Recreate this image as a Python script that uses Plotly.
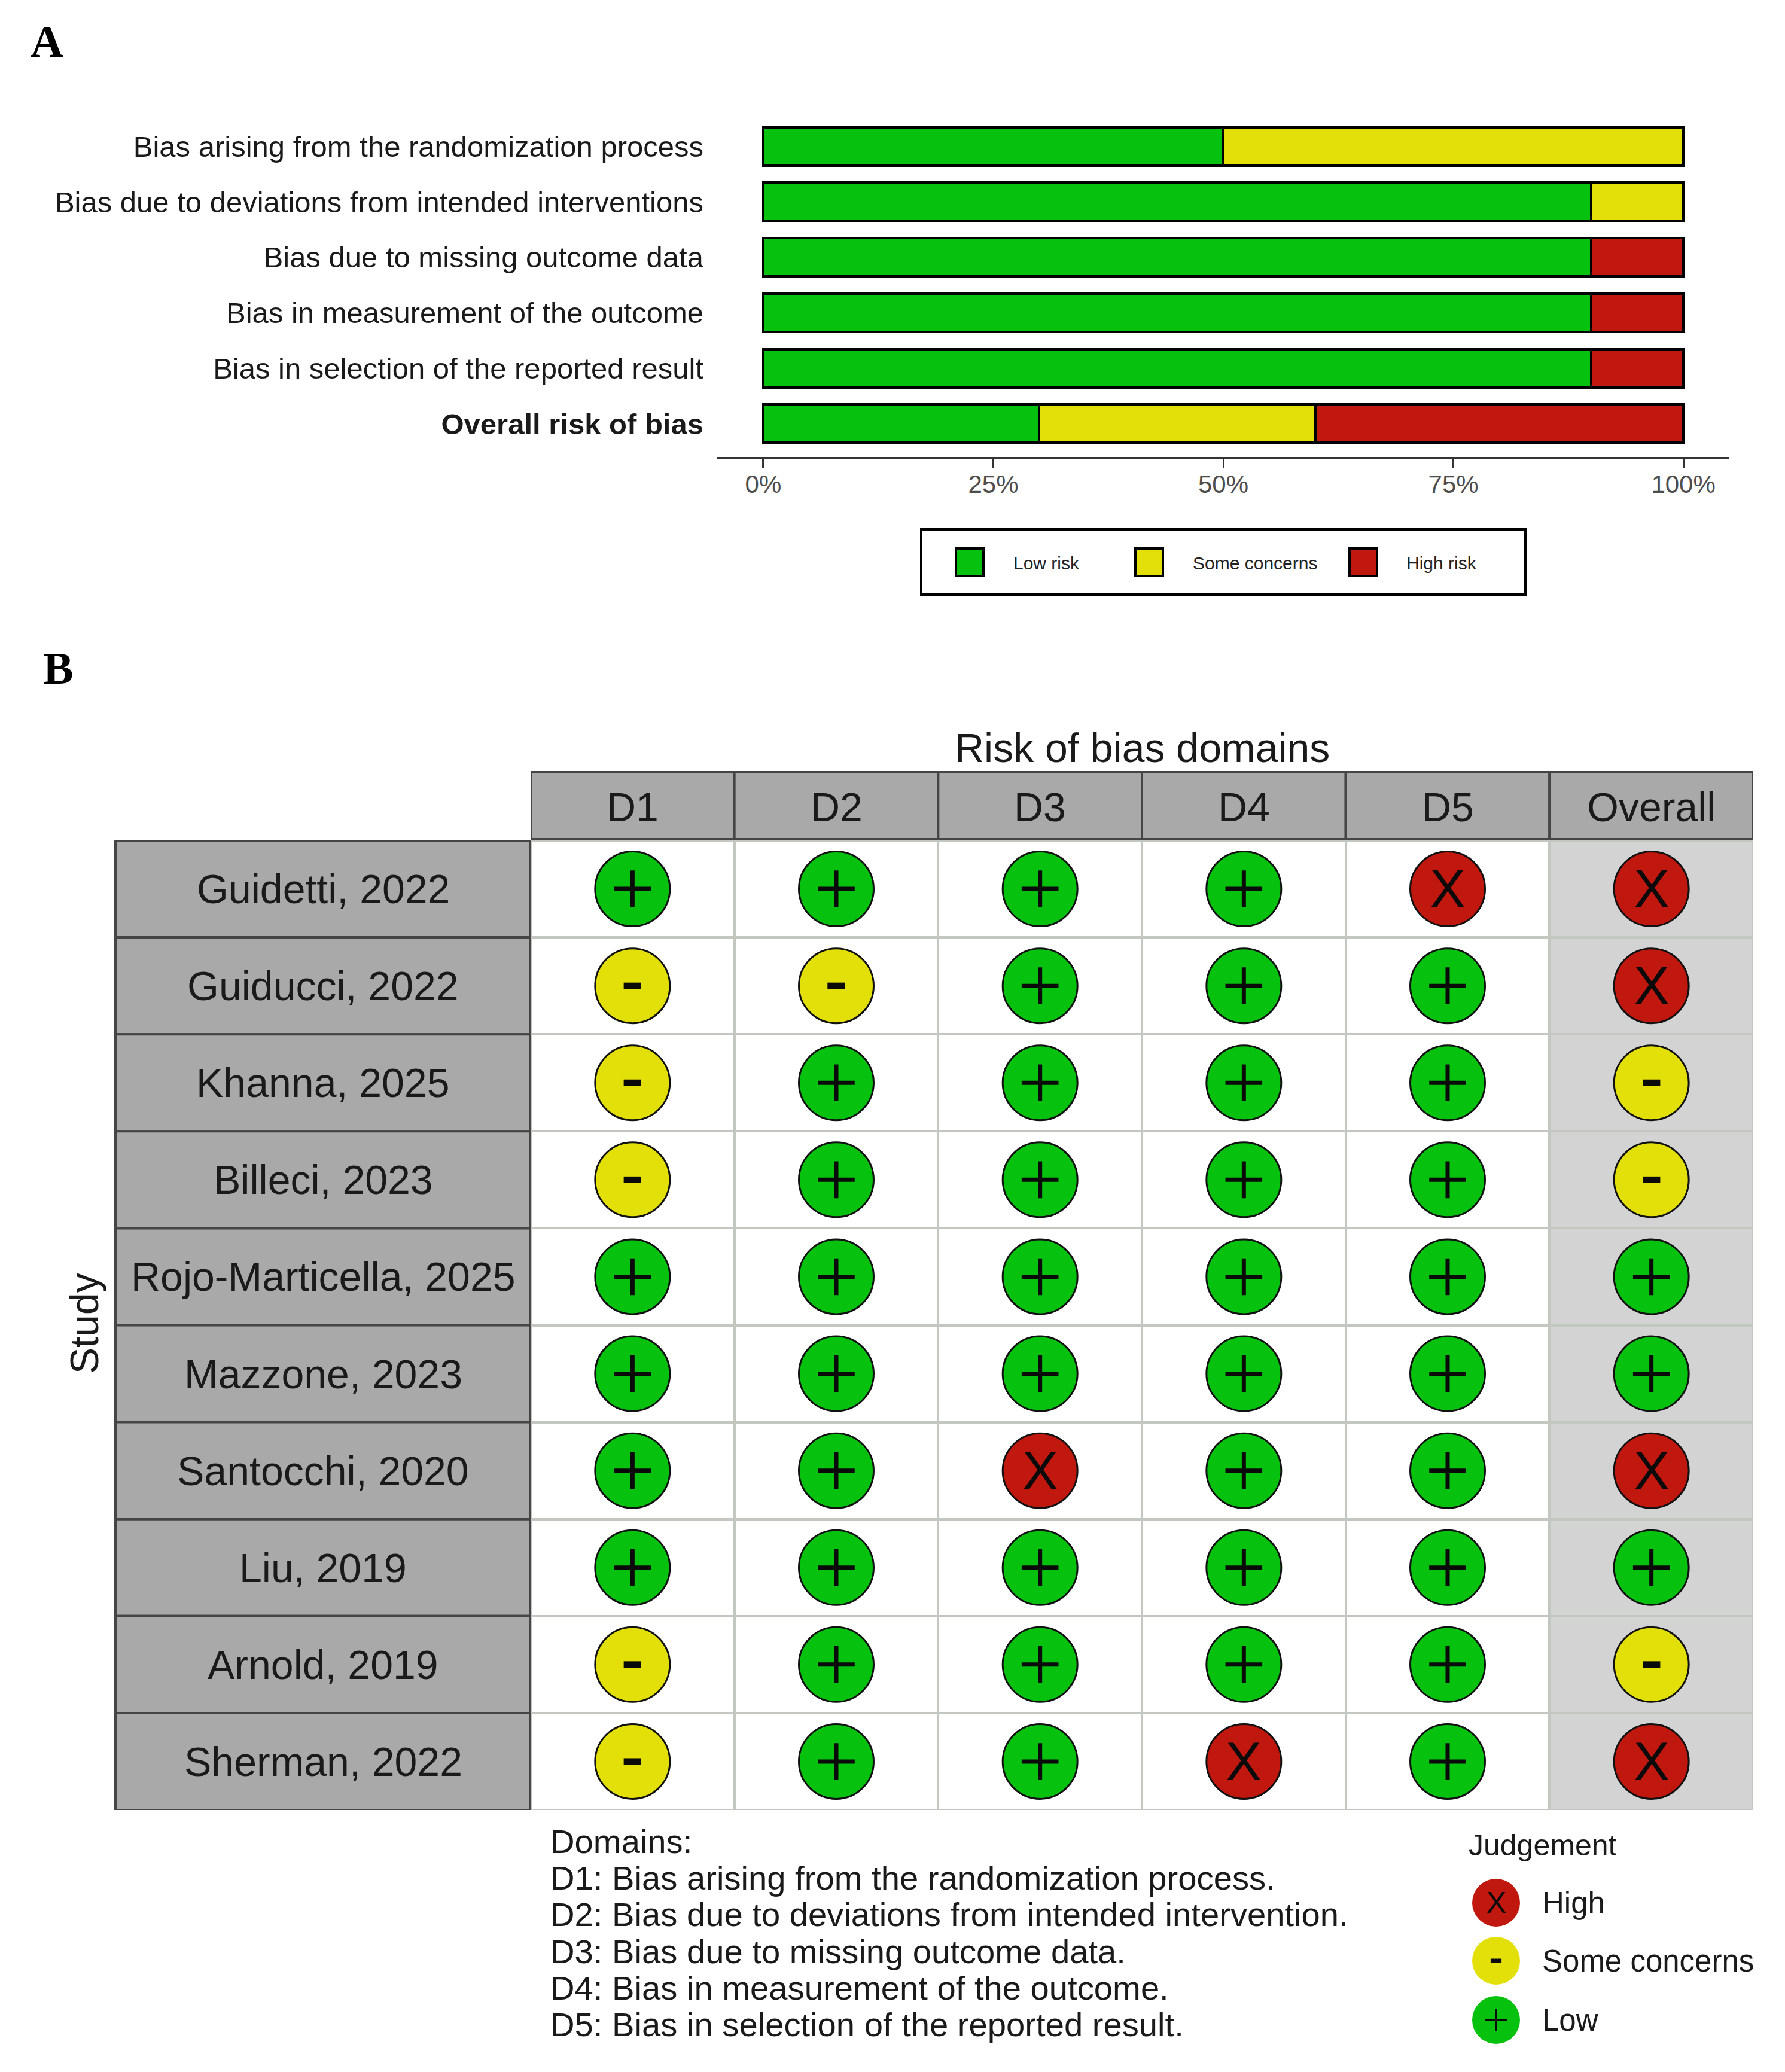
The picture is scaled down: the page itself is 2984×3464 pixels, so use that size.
import plotly.graph_objects as go

W, H = 2984, 3464
GREEN, YELLOW, RED = "#07C10F", "#E3E009", "#C0170F"
SANS, SERIF = "Liberation Sans", "Liberation Serif"

# ---- Panel A data
domain_labels = ["Bias arising from the randomization process",
                 "Bias due to deviations from intended interventions",
                 "Bias due to missing outcome data",
                 "Bias in measurement of the outcome",
                 "Bias in selection of the reported result",
                 "<b>Overall risk of bias</b>"]
low_risk = [50, 90, 90, 90, 90, 30]
some_concerns = [50, 10, 0, 0, 0, 30]
high_risk = [0, 0, 10, 10, 10, 40]
pct_ticks = [0, 25, 50, 75, 100]
pct_labels = ["0%", "25%", "50%", "75%", "100%"]

# ---- Panel B data
studies = ["Guidetti, 2022", "Guiducci, 2022", "Khanna, 2025", "Billeci, 2023",
           "Rojo-Marticella, 2025", "Mazzone, 2023", "Santocchi, 2020", "Liu, 2019",
           "Arnold, 2019", "Sherman, 2022"]
rob_domains = ["D1", "D2", "D3", "D4", "D5", "Overall"]
judgements = [
    ["+", "+", "+", "+", "X", "X"],
    ["-", "-", "+", "+", "+", "X"],
    ["-", "+", "+", "+", "+", "-"],
    ["-", "+", "+", "+", "+", "-"],
    ["+", "+", "+", "+", "+", "+"],
    ["+", "+", "+", "+", "+", "+"],
    ["+", "+", "X", "+", "+", "X"],
    ["+", "+", "+", "+", "+", "+"],
    ["-", "+", "+", "+", "+", "-"],
    ["-", "+", "+", "X", "+", "X"],
]
domain_notes = ["Domains:",
                "D1: Bias arising from the randomization process.",
                "D2: Bias due to deviations from intended intervention.",
                "D3: Bias due to missing outcome data.",
                "D4: Bias in measurement of the outcome.",
                "D5: Bias in selection of the reported result."]
judgement_levels = ["High", "Some concerns", "Low"]
legend_a_labels = ["Low risk", "Some concerns", "High risk"]


def fx(px):
    return px / W


def fy(px):
    return 1 - px / H


fig = go.Figure()
shapes = []
annots = []

# ---- Panel A bars
for vals, col, nm in [(low_risk, GREEN, "Low risk"), (some_concerns, YELLOW, "Some concerns"), (high_risk, RED, "High risk")]:
    fig.add_trace(go.Bar(y=domain_labels, x=vals, orientation="h", name=nm, showlegend=False,
                         marker=dict(color=col, line=dict(color="black", width=4)),
                         xaxis="x", yaxis="y"))

# ---- Panel B cells
style = {"+": GREEN, "-": YELLOW, "X": RED}
for g in ["+", "-", "X"]:
    xs, ys = [], []
    for s, row in zip(studies, judgements):
        for d, v in zip(rob_domains, row):
            if v == g:
                xs.append(d)
                ys.append(s)
    fig.add_trace(go.Scatter(x=xs, y=ys, mode="markers", showlegend=False, xaxis="x2", yaxis="y2",
                             marker=dict(size=125, color=style[g], line=dict(color="#111111", width=3))))
    if g == "+":
        fig.add_trace(go.Scatter(x=xs, y=ys, mode="markers", showlegend=False, xaxis="x2", yaxis="y2",
                                 marker=dict(size=44, symbol="cross-thin", line=dict(color="#0a0a0a", width=7))))
    elif g == "-":
        fig.add_trace(go.Scatter(x=xs, y=ys, mode="markers", showlegend=False, xaxis="x2", yaxis="y2",
                                 marker=dict(size=21, symbol="line-ew", line=dict(color="#0a0a0a", width=11))))
    else:
        for x, y in zip(xs, ys):
            annots.append(dict(x=x, y=y, xref="x2", yref="y2", text="X", showarrow=False, xanchor="center",
                               yanchor="middle", font=dict(family=SANS, size=90, color="#0a0a0a")))

# ---- Legend keys on a full-page axis pair
swatch_x, swatch_y = [1621, 1921, 2279], [940, 940, 940]
fig.add_trace(go.Scatter(x=swatch_x, y=swatch_y, mode="markers", showlegend=False, xaxis="x3", yaxis="y3",
                         marker=dict(size=46, symbol="square", color=[GREEN, YELLOW, RED],
                                     line=dict(color="black", width=4))))
key_x, key_y = [2501, 2501, 2501], [3181, 3278, 3377]
fig.add_trace(go.Scatter(x=key_x, y=key_y, mode="markers", showlegend=False, xaxis="x3", yaxis="y3",
                         marker=dict(size=80, color=[RED, YELLOW, GREEN])))
fig.add_trace(go.Scatter(x=key_x[2:], y=key_y[2:], mode="markers", showlegend=False, xaxis="x3", yaxis="y3",
                         marker=dict(size=27, symbol="cross-thin", line=dict(color="#0a0a0a", width=4))))
fig.add_trace(go.Scatter(x=key_x[1:2], y=key_y[1:2], mode="markers", showlegend=False, xaxis="x3", yaxis="y3",
                         marker=dict(size=13, symbol="line-ew", line=dict(color="#0a0a0a", width=7))))
annots.append(dict(x=key_x[0], y=key_y[0], xref="x3", yref="y3", text="X", showarrow=False, xanchor="center",
                   yanchor="middle", font=dict(family=SANS, size=50, color="#0a0a0a")))


def note(px, py, text, size, anchor="left", family=SANS, color="#1a1a1a", angle=0):
    annots.append(dict(x=fx(px), y=fy(py), xref="paper", yref="paper", text=text, showarrow=False,
                       xanchor=anchor, yanchor="middle", textangle=angle,
                       font=dict(family=family, size=size, color=color)))


# Panel letters
note(78, 69, "<b>A</b>", 76, "center", SERIF, "black")
note(97, 1117, "<b>B</b>", 76, "center", SERIF, "black")

# Panel A legend
shapes.append(dict(type="rect", xref="paper", yref="paper", x0=fx(1540), x1=fx(2550), y0=fy(885), y1=fy(994),
                   line=dict(color="black", width=4), fillcolor="rgba(0,0,0,0)", layer="below"))
for px, lab in zip([1692, 1992, 2349], legend_a_labels):
    note(px, 941, lab, 30, "left", SANS, "#222222")

# Panel B grid outline, strips
STRIP, EDGE = "#A9A9A9", "#454545"
shapes.append(dict(type="rect", xref="x2", yref="y2", x0=-0.5, x1=5.5, y0=-0.5, y1=9.5,
                   line=dict(color="#C2C7C0", width=4), layer="between"))
for i, d in enumerate(rob_domains):
    shapes.append(dict(type="rect", xref="x2", yref="paper", x0=i - 0.5, x1=i + 0.5, y0=fy(1403), y1=fy(1291),
                       fillcolor=STRIP, line=dict(color=EDGE, width=4), layer="above"))
    annots.append(dict(x=d, y=fy(1349), xref="x2", yref="paper", text=d, showarrow=False, xanchor="center",
                       yanchor="middle", font=dict(family=SANS, size=68, color="#1a1a1a")))
for i, s in enumerate(studies):
    shapes.append(dict(type="rect", xref="paper", yref="y2", x0=fx(193), x1=fx(886), y0=i - 0.5, y1=i + 0.5,
                       fillcolor=STRIP, line=dict(color=EDGE, width=4), layer="above"))
    annots.append(dict(x=fx(540), y=s, xref="paper", yref="y2", text=s, showarrow=False, xanchor="center",
                       yanchor="middle", font=dict(family=SANS, size=68, color="#1a1a1a")))
# Overall column shading
shapes.append(dict(type="rect", xref="x2", yref="y2", x0=4.5, x1=5.5, y0=-0.5, y1=9.5,
                   fillcolor="#D3D3D3", line=dict(width=0), layer="below"))

note(1909, 1250, "Risk of bias domains", 68, "center")
note(141, 2213, "Study", 66, "center", angle=-90)
for py, t in zip([3078, 3139, 3200, 3262, 3323, 3384], domain_notes):
    note(918, py, t, 56.2)
note(2453, 3085, "Judgement", 50)
for py, t in zip(key_y, judgement_levels):
    note(2576, py, t, 51)

fig.update_layout(
    width=W, height=H, margin=dict(l=0, r=0, t=0, b=0, pad=0),
    paper_bgcolor="white", plot_bgcolor="rgba(0,0,0,0)",
    barmode="stack", bargap=0.31, showlegend=False,
    shapes=shapes, annotations=annots,
    xaxis=dict(domain=[fx(1199), fx(2891)], range=[-5, 105], tickvals=pct_ticks, ticktext=pct_labels,
               showgrid=False, zeroline=False, showline=True, linecolor="#333333", linewidth=4,
               ticks="outside", ticklen=14, tickwidth=3, tickcolor="#333333", ticklabelstandoff=-8,
               tickfont=dict(family=SANS, size=42, color="#4D4D4D"), anchor="y"),
    yaxis=dict(domain=[fy(764), fy(189)], range=[5.6, -0.6], type="category", categoryorder="array",
               categoryarray=domain_labels, showgrid=False, zeroline=False, showline=False, ticks="",
               ticklabelstandoff=22, tickfont=dict(family=SANS, size=49, color="#1a1a1a"), anchor="x"),
    xaxis2=dict(domain=[fx(887), fx(2931)], range=[-0.5, 5.5], type="category", categoryorder="array",
                categoryarray=rob_domains, showticklabels=False, ticks="", tickson="boundaries",
                showgrid=True, gridcolor="#C2C7C0", gridwidth=4, zeroline=False, anchor="y2"),
    yaxis2=dict(domain=[fy(3026), fy(1405)], range=[9.5, -0.5], type="category", categoryorder="array",
                categoryarray=studies, showticklabels=False, ticks="", tickson="boundaries",
                showgrid=True, gridcolor="#C2C7C0", gridwidth=4, zeroline=False, anchor="x2"),
    xaxis3=dict(domain=[0, 1], range=[0, W], visible=False, anchor="y3"),
    yaxis3=dict(domain=[0, 1], range=[H, 0], visible=False, anchor="x3"),
)

fig.write_html("out.html", config={"displayModeBar": False}, post_script="document.body.style.margin='0';")
